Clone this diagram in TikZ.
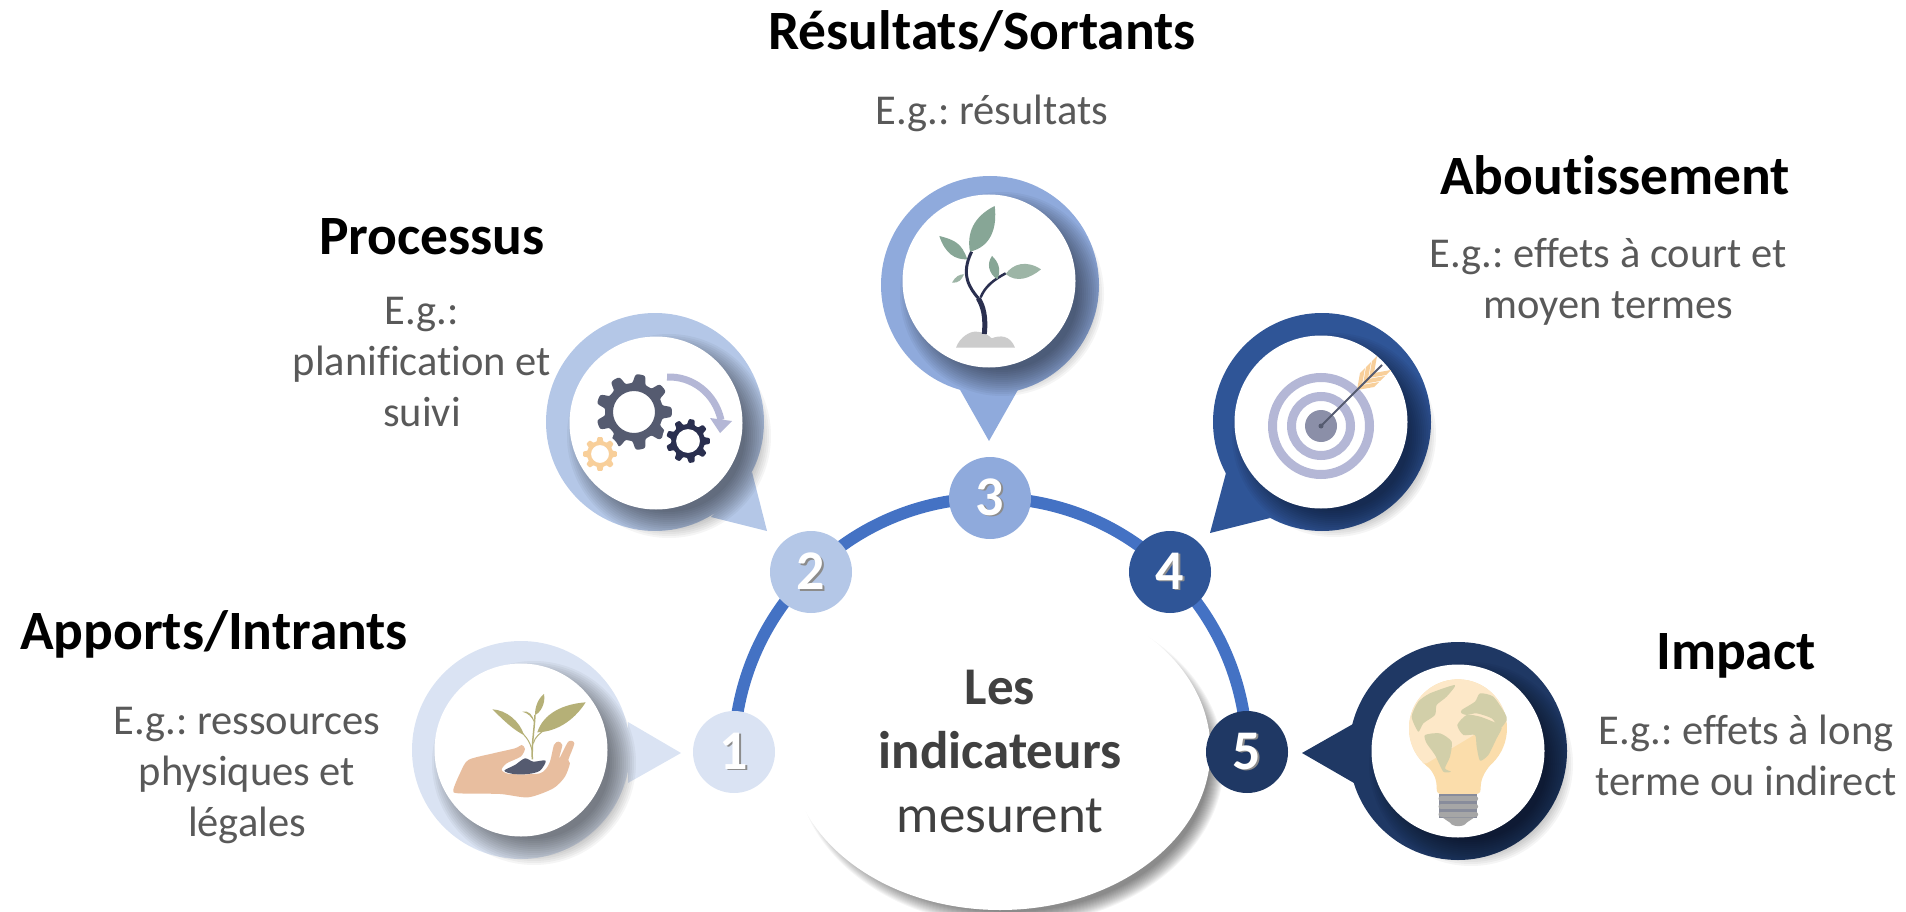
\documentclass[tikz,border=0pt]{standalone}
\usepackage{fontspec}
\setmainfont[Ligatures=CommonOff]{Carlito}
\usetikzlibrary{shapes.geometric,backgrounds}
\definecolor{pinA}{HTML}{DAE3F3}
\definecolor{pinB}{HTML}{B4C7E7}
\definecolor{pinC}{HTML}{8FAADC}
\definecolor{pinD}{HTML}{2F5597}
\definecolor{pinE}{HTML}{1F3864}
\definecolor{ringblue}{HTML}{4472C4}
\definecolor{greytext}{HTML}{595959}
\definecolor{hubtext}{HTML}{404040}
\definecolor{olive}{HTML}{B5B077}
\definecolor{skin}{HTML}{E8BE9F}
\definecolor{slate}{HTML}{555B70}
\definecolor{navy}{HTML}{2A2F4F}
\definecolor{peach}{HTML}{F8CF9A}
\definecolor{lilac}{HTML}{B4B7D6}
\definecolor{sage}{HTML}{87A696}
\definecolor{sagelight}{HTML}{9DB5A6}
\definecolor{land}{HTML}{D2CFA9}
\definecolor{bulblow}{HTML}{FBDDAB}
\definecolor{bulbhigh}{HTML}{FDE8C8}
\newcommand{\gearicon}[6]{%
	\fill[#6,even odd rule] plot[domain=0:360,samples=217,smooth] ({#1+(#3*.88+#3*.12*tanh(2.5*cos(#5*\x)))*cos(\x)},{#2+(#3*.88+#3*.12*tanh(2.5*cos(#5*\x)))*sin(\x)}) -- cycle (#1,#2) circle (#4);
}
\newcommand{\numtext}[1]{\makebox[0pt][l]{\hspace{1.5pt}\raisebox{-1.5pt}{\color{black!45}#1}}#1}
\begin{document}
\frenchspacing
\begin{tikzpicture}[x=1pt,y=-1pt,
	titletext/.style={font=\fontsize{55.5}{66}\selectfont\bfseries,text=black,align=center,inner sep=0},
	bodytext/.style={font=\fontsize{42.5}{51}\selectfont,text=greytext,align=center,inner sep=0},
	badge/.style={circle,minimum size=82,inner sep=0,text=white,font=\fontsize{56}{64}\selectfont\bfseries},
	whitedisc/.style={circle,fill=white,minimum size=173,inner sep=0},
	softshade/.style={fill=black,opacity=.038},
	ringline/.style={draw=ringblue,line width=12},
	]
	\useasboundingbox (0,0) rectangle (1906,912);
	% pins
	\foreach \id/\cx/\cy/\ix/\iy/\col/\ax/\ay/\tx/\ty/\bx/\by in {
		1/521/750/521/750/pinA/628/722/681/753/628/783,
		2/655/422/656/423/pinB/752/472/767/531/711/517,
		3/990/285/989/281/pinC/959/388/989/441/1019/388,
		4/1322/422/1321/422/pinD/1226/473/1210/533/1270/518,
		5/1458/751/1458/751/pinE/1353/724/1302/753/1354/783}{
		\fill[\col] (\cx,\cy) circle (109);
		\fill[\col] (\ax,\ay) -- (\tx,\ty) -- (\bx,\by) -- cycle;
		\foreach \r in {76,78,...,102}{
			\fill[softshade] (\ix+13,\iy+13) circle (\r);
		}
		\node[whitedisc] (icon\id) at (\ix,\iy) {};
	}
	% hub
	\foreach \r in {200,201,...,214}{
		\fill[softshade] (1010,762) ellipse [x radius=\r,y radius=\r-50];
	}
	\node[ellipse,fill=white,minimum width=421,minimum height=320,inner sep=0] (hub) at (1000,750) {};
	\node[font=\fontsize{53}{64}\selectfont,text=hubtext,align=center,inner sep=0] (hubtxt) at (1000,752) {\textbf{Les}\\\textbf{indicateurs}\\mesurent};
	% badges
	\node[badge,fill=pinA] (num1) at (734,752) {\numtext{1}};
	\node[badge,fill=pinB] (num2) at (811,572) {\numtext{2}};
	\node[badge,fill=pinC] (num3) at (990,498) {\numtext{3}};
	\node[badge,fill=pinD] (num4) at (1170,572) {\numtext{4}};
	\node[badge,fill=pinE] (num5) at (1247,752) {\numtext{5}};
	\begin{scope}[on background layer]
		\draw[ringline] (num1.center) to[bend left=22.5,looseness=.885] (num2.center);
		\draw[ringline] (num2.center) to[bend left=22.5,looseness=.885] (num3.center);
		\draw[ringline] (num3.center) to[bend left=22.5,looseness=.885] (num4.center);
		\draw[ringline] (num4.center) to[bend left=22.5,looseness=.885] (num5.center);
	\end{scope}
	% labels
	\node[titletext] (t1) at (214,634) {Apports/Intrants};
	\node[bodytext] (d1) at (247,776) {E.g.: ressources\\physiques et\\légales};
	\node[titletext] (t2) at (432,237) {Processus};
	\node[bodytext] (d2) at (422,362) {E.g.:\\planification et\\suivi};
	\node[titletext] (t3) at (982,31) {Résultats/Sortants};
	\node[bodytext] (d3) at (992,113) {E.g.: résultats};
	\node[titletext] (t4) at (1615,175) {Aboutissement};
	\node[bodytext] (d4) at (1608,282) {E.g.: effets à court et\\moyen termes};
	\node[titletext] (t5) at (1736,656) {Impact};
	\node[bodytext] (d5) at (1746,755) {E.g.: effets à long\\terme ou indirect};
	% hand
	\begin{scope}[shift={(400,600)},x=.3333pt,y=-.3333pt]
		\fill[skin] plot[smooth cycle,tension=.45] coordinates {(160,570) (180,520) (205,480) (280,460) (345,445) (365,435) (375,447) (362,470) (320,490) (305,510) (330,522) (420,520) (448,490) (462,435) (475,425) (487,435) (478,475) (505,425) (523,430) (505,480) (510,490) (495,530) (460,565) (385,592) (300,582) (175,580)};
		\fill[slate] plot[smooth cycle,tension=.5] coordinates {(313,512) (345,495) (375,475) (400,485) (437,482) (420,512) (385,522) (340,522)};
		\draw[olive,line width=1.5] (397,478) .. controls (395,430) and (402,400) .. (405,345);
		\draw[olive,line width=1] (397,455) .. controls (390,420) and (375,405) .. (340,375);
		\draw[olive,line width=1] (400,430) .. controls (405,410) and (420,400) .. (440,385);
		\fill[olive] (372,405) .. controls (340,390) and (310,360) .. (277,328) .. controls (320,330) and (360,365) .. cycle;
		\fill[olive] (412,397) .. controls (430,340) and (490,312) .. (557,307) .. controls (530,350) and (480,395) .. cycle;
		\fill[olive] (405,345) .. controls (405,320) and (415,295) .. (432,282) .. controls (438,310) and (420,340) .. cycle;
		\fill[olive] (403,368) .. controls (395,350) and (385,340) .. (367,335) .. controls (385,330) and (400,345) .. cycle;
	\end{scope}
	% gears
	\gearicon{634}{412}{38}{21}{9}{slate}
	\fill[white] (688,441) circle (26);
	\fill[white] (600,454) circle (20);
	\gearicon{688}{441}{22}{12}{9}{navy}
	\gearicon{600}{454}{17}{9}{8}{peach}
	\draw[lilac,line width=7] (667,377) .. controls (692,376) and (715,393) .. (721,420);
	\fill[lilac] (710,418) -- (732,421) -- (720,433) -- cycle;
	% sprout
	\begin{scope}[shift={(860,160)},x=.3333pt,y=-.3333pt]
		\fill[black!20!white] (288,563) .. controls (300,530) and (330,515) .. (345,515) .. controls (370,515) and (385,525) .. (395,535) .. controls (420,525) and (450,525) .. (465,563) -- cycle;
		\draw[navy,line width=5] (373,522) .. controls (378,470) and (370,440) .. (355,415);
		\draw[navy,line width=3] (355,415) .. controls (330,385) and (300,345) .. (335,275);
		\draw[navy,line width=2.5] (362,412) .. controls (375,380) and (400,360) .. (437,340);
		\fill[sage] (330,275) .. controls (320,220) and (340,170) .. (404,138) .. controls (412,200) and (395,260) .. cycle;
		\fill[sage] (322,298) .. controls (305,250) and (285,240) .. (238,228) .. controls (255,280) and (285,300) .. cycle;
		\fill[sagelight] (312,343) .. controls (300,342) and (285,350) .. (276,368) .. controls (295,370) and (305,360) .. cycle;
		\fill[sage] (412,358) .. controls (385,340) and (380,310) .. (396,288) .. controls (415,305) and (425,330) .. cycle;
		\fill[sagelight] (437,342) .. controls (460,310) and (500,300) .. (543,328) .. controls (510,355) and (470,370) .. cycle;
	\end{scope}
	% target
	\draw[lilac,line width=9] (1321,426) circle (48.5);
	\draw[lilac,line width=9] (1321,426) circle (29.5);
	\fill[black!10!lilac!70!slate] (1321,426) circle (16);
	\foreach \sx in {1357,1363,1369}{
		\fill[peach] (\sx,1747-\sx) -- (\sx+5,1742-\sx) -- (\sx+8,1725-\sx) -- (\sx+3,1730-\sx) -- cycle;
		\fill[peach] (\sx,1747-\sx) -- (\sx+5,1742-\sx) -- (\sx+22,1739-\sx) -- (\sx+17,1744-\sx) -- cycle;
	}
	\draw[slate,line width=2] (1321,426) -- (1382,365);
	\fill[slate] (1321,426) circle (2.5);
	% bulb
	\begin{scope}[shift={(1280,630)},x=.3333pt,y=-.3333pt]
		\fill[slate!70!white] (478,492) rectangle (592,565);
		\foreach \ry in {507,530,553}{
			\draw[black!35!white,line width=5,line cap=round] (483,\ry) -- (587,\ry);
		}
		\fill[black!35!white] (488,563) -- (582,563) -- (560,578) .. controls (552,592) and (518,592) .. (510,578) -- cycle;
		\fill[bulblow] (534,295) circle (147);
		\fill[bulblow] (435,400) .. controls (465,430) and (470,450) .. (470,475) .. controls (470,488) and (475,492) .. (485,492) -- (585,492) .. controls (598,492) and (602,488) .. (602,475) .. controls (602,450) and (610,430) .. (635,400) -- cycle;
		\begin{scope}
			\clip (534,295) circle (147);
			\fill[bulbhigh] (380,405) -- (440,400) -- (590,310) -- (700,265) -- (700,130) -- (380,130) -- cycle;
		\end{scope}
		\fill[land] plot[smooth cycle,tension=.4] coordinates {(395,260) (415,215) (450,190) (525,165) (500,200) (470,225) (465,255) (430,280) (415,305)};
		\fill[land] plot[smooth cycle,tension=.4] coordinates {(435,315) (480,310) (515,335) (510,380) (495,415) (513,425) (490,425) (465,375) (440,340)};
		\fill[land] plot[smooth cycle,tension=.4] coordinates {(532,285) (560,255) (600,260) (650,280) (665,295) (650,325) (625,375) (600,392) (590,350) (585,315) (550,315)};
		\fill[land] plot[smooth cycle,tension=.4] coordinates {(545,240) (585,215) (600,190) (640,200) (675,250) (680,270) (660,295) (635,265) (590,250) (560,255) (545,250)};
	\end{scope}
\end{tikzpicture}
\end{document}
